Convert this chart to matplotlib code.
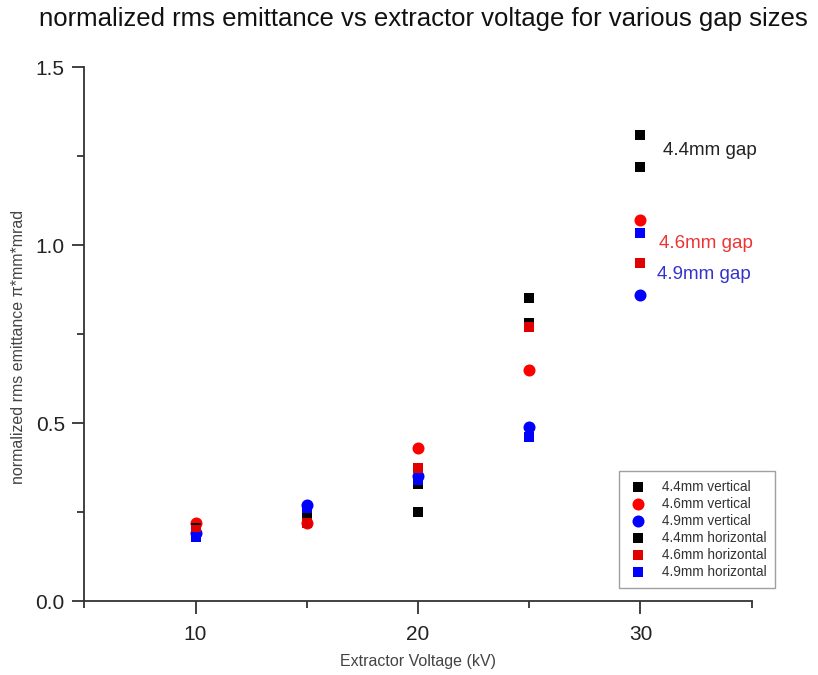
import matplotlib
matplotlib.use("Agg")
import matplotlib.pyplot as plt
from matplotlib.ticker import MultipleLocator

plt.rcParams['font.family'] = ['Liberation Sans', 'DejaVu Sans']

voltage = [10, 15, 20, 25, 30]
v44_vertical = [0.20, 0.24, 0.33, 0.85, 1.31]
v46_vertical = [0.22, 0.22, 0.43, 0.65, 1.07]
v49_vertical = [0.19, 0.27, 0.35, 0.49, 0.86]
v44_horizontal = [0.205, 0.24, 0.25, 0.78, 1.22]
v46_horizontal = [0.20, 0.22, 0.375, 0.77, 0.95]
v49_horizontal = [0.18, 0.26, 0.34, 0.46, 1.035]

series = [
    (v44_vertical, 's', 'black', '4.4mm vertical'),
    (v46_vertical, 'o', 'red', '4.6mm vertical'),
    (v49_vertical, 'o', 'blue', '4.9mm vertical'),
    (v44_horizontal, 's', 'black', '4.4mm horizontal'),
    (v46_horizontal, 's', '#e00000', '4.6mm horizontal'),
    (v49_horizontal, 's', '#0000ff', '4.9mm horizontal'),
]

fig = plt.figure(figsize=(8.18, 6.75), dpi=100)
ax = fig.add_axes([0.103, 0.1096, 0.816, 0.7911])

for vals, m, c, lab in series:
    ax.scatter(voltage, vals, marker=m, color=c, s=60 if m == 's' else 75,
               label=lab, linewidths=0, zorder=3)

ax.set_xlim(5, 35)
ax.set_ylim(0, 1.5)
ax.xaxis.set_major_locator(MultipleLocator(10))
ax.xaxis.set_minor_locator(MultipleLocator(5))
ax.yaxis.set_major_locator(MultipleLocator(0.5))
ax.yaxis.set_minor_locator(MultipleLocator(0.25))
ax.yaxis.set_major_formatter(matplotlib.ticker.FormatStrFormatter('%.1f'))

for s in ['top', 'right']:
    ax.spines[s].set_visible(False)
for s in ['left', 'bottom']:
    ax.spines[s].set_color('#333333')
    ax.spines[s].set_linewidth(1.3)
ax.tick_params(which='major', direction='out', length=9, width=1.3, color='#333333',
               labelsize=15, labelcolor='#222222')
ax.tick_params(axis='x', which='major', pad=8)
ax.tick_params(axis='y', which='major', pad=5)
ax.tick_params(which='minor', direction='out', length=5, width=1.3, color='#333333')

ax.set_xlabel('Extractor Voltage (kV)', fontsize=11.5, color='#444444')
ax.xaxis.set_label_coords(0.5, -0.1)
ax.set_ylabel('normalized rms emittance \u03c0*mm*mrad', fontsize=11.5, color='#444444')
ax.yaxis.set_label_coords(-0.088, 0.476)
fig.suptitle('normalized rms emittance vs extractor voltage for various gap sizes',
             fontsize=18.5, color='#111111', x=0.517, y=0.99)

ax.text(31.0, 1.265, '4.4mm gap', fontsize=13.5, color='#222222', va='center')
ax.text(30.85, 1.003, '4.6mm gap', fontsize=13.5, color='#ee3333', va='center')
ax.text(30.75, 0.916, '4.9mm gap', fontsize=13.5, color='#3333cc', va='center')

leg = ax.legend(loc='lower right', bbox_to_anchor=(1.045, 0.0125), fontsize=9.8,
                frameon=True, fancybox=False, edgecolor='#888888',
                handletextpad=0.9, labelspacing=0.22, borderpad=0.65,
                handlelength=1.6, scatterpoints=1)
leg.get_frame().set_linewidth(1.0)
for t in leg.get_texts():
    t.set_color('#333333')

fig.savefig('out.png', dpi=100)
